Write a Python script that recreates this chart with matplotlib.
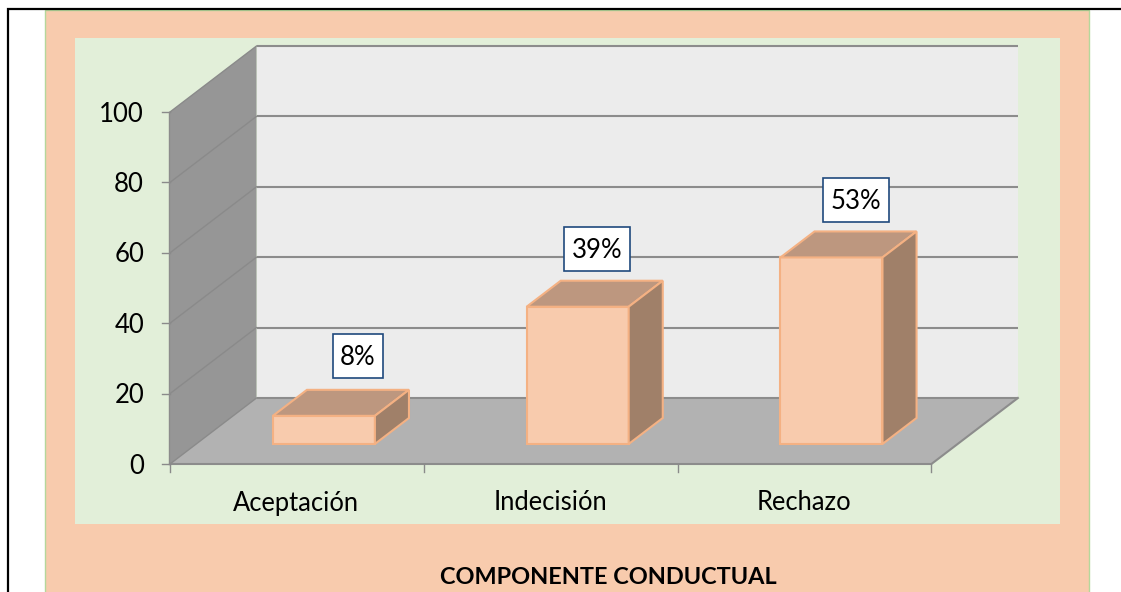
import matplotlib
matplotlib.use("Agg")
import matplotlib.pyplot as plt
from matplotlib.patches import Polygon, Rectangle

categories = ["Aceptación", "Indecisión", "Rechazo"]
values = [8, 39, 53]
value_labels = ["8%", "39%", "53%"]
y_ticks = [0, 20, 40, 60, 80, 100]
title = "COMPONENTE CONDUCTUAL"

W, H = 1121, 592
PEACH, GREEN, WALL, SIDE, FLOOR = "#F8CBAD", "#E2EFD9", "#ECECEC", "#969696", "#B2B2B2"
GRID, BAR_EDGE, BAR_TOP, BAR_SIDE = "#8C8C8C", "#F4B183", "#BD977F", "#A08069"
FONT = "Lato"

# projection of (category position, value, depth) onto the picture
X0, X_CAT = 170.0, 253.8
Y0, Y_VAL = 464.0, 3.52
DX, DY = 86.5, 66.0
D_FRONT, D_BACK = 20 / 66, 46 / 66
BAR_W = 0.402
BAR_SHIFT = 0.003


def proj(c, v, d=0.0):
    return X0 + X_CAT * c + DX * d, Y0 - Y_VAL * v - DY * d


fig = plt.figure(figsize=(W / 100, H / 100), dpi=100, facecolor="white")
ax = fig.add_axes([0, 0, 1, 1])
ax.set_xlim(0, W)
ax.set_ylim(H, 0)
ax.axis("off")

# page frame and panels
ax.add_patch(Rectangle((45, 9.5), 1044, H, fc=PEACH, ec="#B5D79B", lw=1, zorder=1))
ax.add_patch(Rectangle((75, 38), 985, 486, fc=GREEN, ec="none", zorder=2))
ax.plot([7.5, 7.5, W], [H, 9, 9], color="black", lw=1.6, zorder=3, solid_joinstyle="miter")

n = len(categories)
zmax = y_ticks[-1]


def face(points, **kw):
    ax.add_patch(Polygon(points, closed=True, **kw))


# 3D walls
face([proj(0, 0), proj(n, 0), proj(n, 0, 1), proj(0, 0, 1)], fc=FLOOR, ec="none", zorder=4)
face([proj(0, 0, 1), proj(n, 0, 1), proj(n, zmax, 1), proj(0, zmax, 1)], fc=WALL, ec="none", zorder=4)
face([proj(0, 0), proj(0, 0, 1), proj(0, zmax, 1), proj(0, zmax)], fc=SIDE, ec="none", zorder=4)

# gridlines over side and back walls, value ticks
for t in y_ticks:
    a, b, c = proj(0, t), proj(0, t, 1), proj(n, t, 1)
    ax.plot([a[0], b[0]], [a[1], b[1]], color="#8A8A8A", lw=1.0, zorder=5)
    ax.plot([b[0], c[0]], [b[1], c[1]], color=GRID, lw=1.5, zorder=5, solid_capstyle="butt")
    ax.plot([a[0] - 8, a[0]], [a[1], a[1]], color="#8A8A8A", lw=1.0, zorder=5)
    ax.text(a[0] - 26, a[1] + 2, str(t), ha="right", va="center", fontsize=18.5,
            family=FONT, color="black", zorder=8)

# floor edges, axis lines, category ticks
f1, f2, f3 = proj(0, 0), proj(n, 0), proj(n, 0, 1)
ax.plot([f1[0], f2[0], f3[0]], [f1[1], f2[1], f3[1]], color=GRID, lw=1.5, zorder=5)
s1, s2 = proj(0, 0, 0), proj(0, zmax, 0)
ax.plot([s1[0] - 1, s2[0] - 1], [s1[1], s2[1]], color=GRID, lw=1.0, zorder=5)
for i in range(n + 1):
    x, y = proj(i, 0)
    ax.plot([x, x], [y, y + 8], color="#8A8A8A", lw=1.0, zorder=5)
for i, name in enumerate(categories):
    x, y = proj(i + 0.5, 0)
    ax.text(x - 0.5, y + 39, name, ha="center", va="center", fontsize=18.4,
            family=FONT, color="black", zorder=8)

# 3D bars and their boxed value labels
label_offsets = [(34, -59.8), (19.4, -57.7), (24.6, -57.4)]
BOX_H, BOX_PAD = 43.5, 7.5
renderer = fig.canvas.get_renderer()
for i, v in enumerate(values):
    mid = i + 0.5 + BAR_SHIFT
    l, r = mid - BAR_W / 2, mid + BAR_W / 2
    style = dict(ec=BAR_EDGE, lw=1.5, zorder=6, joinstyle="miter")
    face([proj(l, 0, D_FRONT), proj(r, 0, D_FRONT), proj(r, v, D_FRONT), proj(l, v, D_FRONT)], fc=PEACH, **style)
    face([proj(l, v, D_FRONT), proj(r, v, D_FRONT), proj(r, v, D_BACK), proj(l, v, D_BACK)], fc=BAR_TOP, **style)
    face([proj(r, 0, D_FRONT), proj(r, 0, D_BACK), proj(r, v, D_BACK), proj(r, v, D_FRONT)], fc=BAR_SIDE, **style)
    cx, top = proj(mid, v, D_FRONT)
    ox, oy = label_offsets[i]
    txt = ax.text(cx + ox, top + oy + 1, value_labels[i], ha="center", va="center", fontsize=18.5,
                  family=FONT, color="black", zorder=9)
    w = txt.get_window_extent(renderer).width + 2 * BOX_PAD
    ax.add_patch(Rectangle((cx + ox - w / 2, top + oy - BOX_H / 2), w, BOX_H, fc="white",
                           ec="#1F497D", lw=1.2, zorder=8))

ax.text(608.5, 577.5, title, ha="center", va="center", fontsize=16.9, fontweight="bold",
        family=FONT, color="black", zorder=8)

fig.savefig("out.png", dpi=100, facecolor="white")
